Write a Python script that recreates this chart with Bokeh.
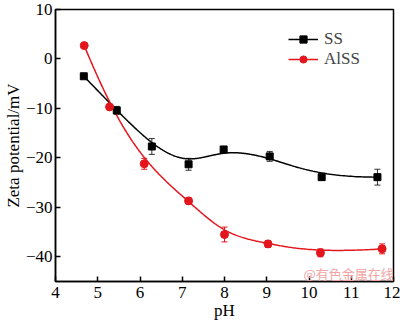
import numpy as np
from bokeh.plotting import figure
from bokeh.models import (ColumnDataSource, Whisker, TeeHead, Legend, LegendItem,
                          FixedTicker, Range1d, Label)
from bokeh.embed import file_html
from bokeh.resources import INLINE

# ---- data ----
ss_ph = [4.67, 5.45, 6.28, 7.15, 7.98, 9.07, 10.3, 11.62]
ss_zeta = [-3.5, -10.4, -17.7, -21.3, -18.3, -19.7, -23.9, -23.9]
ss_err = [0.3, 0.8, 1.6, 1.2, 0.5, 1.0, 0.4, 1.6]

alss_ph = [4.68, 5.28, 6.1, 7.15, 8.0, 9.03, 10.27, 11.73]
alss_zeta = [2.7, -9.7, -21.2, -28.7, -35.5, -37.4, -39.2, -38.4]
alss_err = [0.3, 0.5, 1.1, 0.6, 1.5, 0.7, 0.8, 1.0]

x_ticks = [4, 5, 6, 7, 8, 9, 10, 11, 12]
y_ticks = [-40, -30, -20, -10, 0, 10]
y_tick_labels = ["\u221240", "\u221230", "\u221220", "\u221210", "0", "10"]
y_title = "Zeta potential/mV"
x_title = "pH"
watermark_text = "@有色金属在线"

SERIF = "'Liberation Serif', 'Times New Roman', serif"
BLACK = "#000000"
RED = "#e3161d"


def bspline(xs, ys, n=300, k=3):
    """Clamped uniform cubic B-spline using the data points as control points."""
    P = np.column_stack([xs, ys]).astype(float)
    m = len(P)
    knots = np.concatenate([[0] * k, np.arange(m - k + 1), [m - k] * k]).astype(float)
    t = np.linspace(0, m - k, n)
    t[-1] -= 1e-9

    def N(i, d, t):
        if d == 0:
            return ((knots[i] <= t) & (t < knots[i + 1])).astype(float)
        a = np.zeros_like(t)
        b = np.zeros_like(t)
        den1 = knots[i + d] - knots[i]
        den2 = knots[i + d + 1] - knots[i + 1]
        if den1 > 0:
            a = (t - knots[i]) / den1 * N(i, d - 1, t)
        if den2 > 0:
            b = (knots[i + d + 1] - t) / den2 * N(i + 1, d - 1, t)
        return a + b

    B = np.array([N(i, k, t) for i in range(m)])
    C = B.T @ P
    return C[:, 0], C[:, 1]


X0, X1, Y0, Y1 = 4, 12, -45, 10
p = figure(width=400, height=322, output_backend="svg", toolbar_location=None,
           x_range=Range1d(X0, X1), y_range=Range1d(Y0, Y1),
           min_border_left=52, min_border_right=7, min_border_top=9,
           min_border_bottom=40)
p.background_fill_color = "white"
p.border_fill_color = "white"
p.grid.visible = False
p.outline_line_color = BLACK
p.outline_line_width = 1.5

for ax in (p.xaxis, p.yaxis):
    ax.axis_line_width = 1.5
    ax.major_tick_in = 5
    ax.major_tick_out = 0
    ax.minor_tick_in = 0
    ax.minor_tick_out = 0
    ax.major_tick_line_width = 1.5
    ax.minor_tick_line_color = None
    ax.major_label_text_font = SERIF
    ax.major_label_text_font_size = "17px"
    ax.major_label_text_color = BLACK
    ax.axis_label_text_font = SERIF
    ax.axis_label_text_font_style = "normal"
    ax.axis_label_text_color = BLACK
    ax.axis_label_text_font_size = "17px"

p.xaxis.ticker = FixedTicker(ticks=x_ticks)
p.yaxis.ticker = FixedTicker(ticks=y_ticks)
p.yaxis.major_label_overrides = {t: l for t, l in zip(y_ticks, y_tick_labels)}
p.xaxis.axis_label = x_title
p.yaxis.axis_label = y_title
p.xaxis.major_label_standoff = 5
p.yaxis.major_label_standoff = 3
p.xaxis.axis_label_standoff = 0
p.yaxis.axis_label_standoff = 0

# curves
sx, sy = bspline(ss_ph, ss_zeta)
ax_, ay_ = bspline(alss_ph, alss_zeta)
l_ss = p.line(sx, sy, line_color=BLACK, line_width=1.5)
l_al = p.line(ax_, ay_, line_color=RED, line_width=1.5)

# error bars
for xs, ys, es, col in ((ss_ph, ss_zeta, ss_err, "#333333"), (alss_ph, alss_zeta, alss_err, RED)):
    src = ColumnDataSource(dict(x=xs, up=[y + e for y, e in zip(ys, es)],
                                lo=[y - e for y, e in zip(ys, es)]))
    w = Whisker(source=src, base="x", upper="up", lower="lo", line_color=col,
                line_width=1,
                upper_head=TeeHead(size=6, line_color=col, line_width=1),
                lower_head=TeeHead(size=6, line_color=col, line_width=1))
    p.add_layout(w)

m_ss = p.scatter(ss_ph, ss_zeta, marker="square", size=7, fill_color=BLACK, line_color=BLACK)
m_al = p.scatter(alss_ph, alss_zeta, marker="circle", size=8, fill_color=RED, line_color=RED)

legend = Legend(items=[LegendItem(label="SS", renderers=[l_ss, m_ss]),
                       LegendItem(label="AlSS", renderers=[l_al, m_al])],
                location=(233, 212), orientation="vertical",
                border_line_alpha=0, background_fill_alpha=0,
                padding=0, margin=0, spacing=0,
                glyph_width=30, glyph_height=18, label_height=18,
                label_standoff=6,
                label_text_font=SERIF, label_text_font_size="17px")
p.add_layout(legend)

# watermark (kept inside the plot area, bottom right, where annotations are drawn)
p.add_layout(Label(x=10.94, y=-43.3, text=watermark_text, text_font="Noto Sans CJK SC",
                   text_font_size="13px", text_color="#f2a4a4",
                   text_align="center", text_baseline="middle"))

open("out.html", "w").write(file_html(p, INLINE))
